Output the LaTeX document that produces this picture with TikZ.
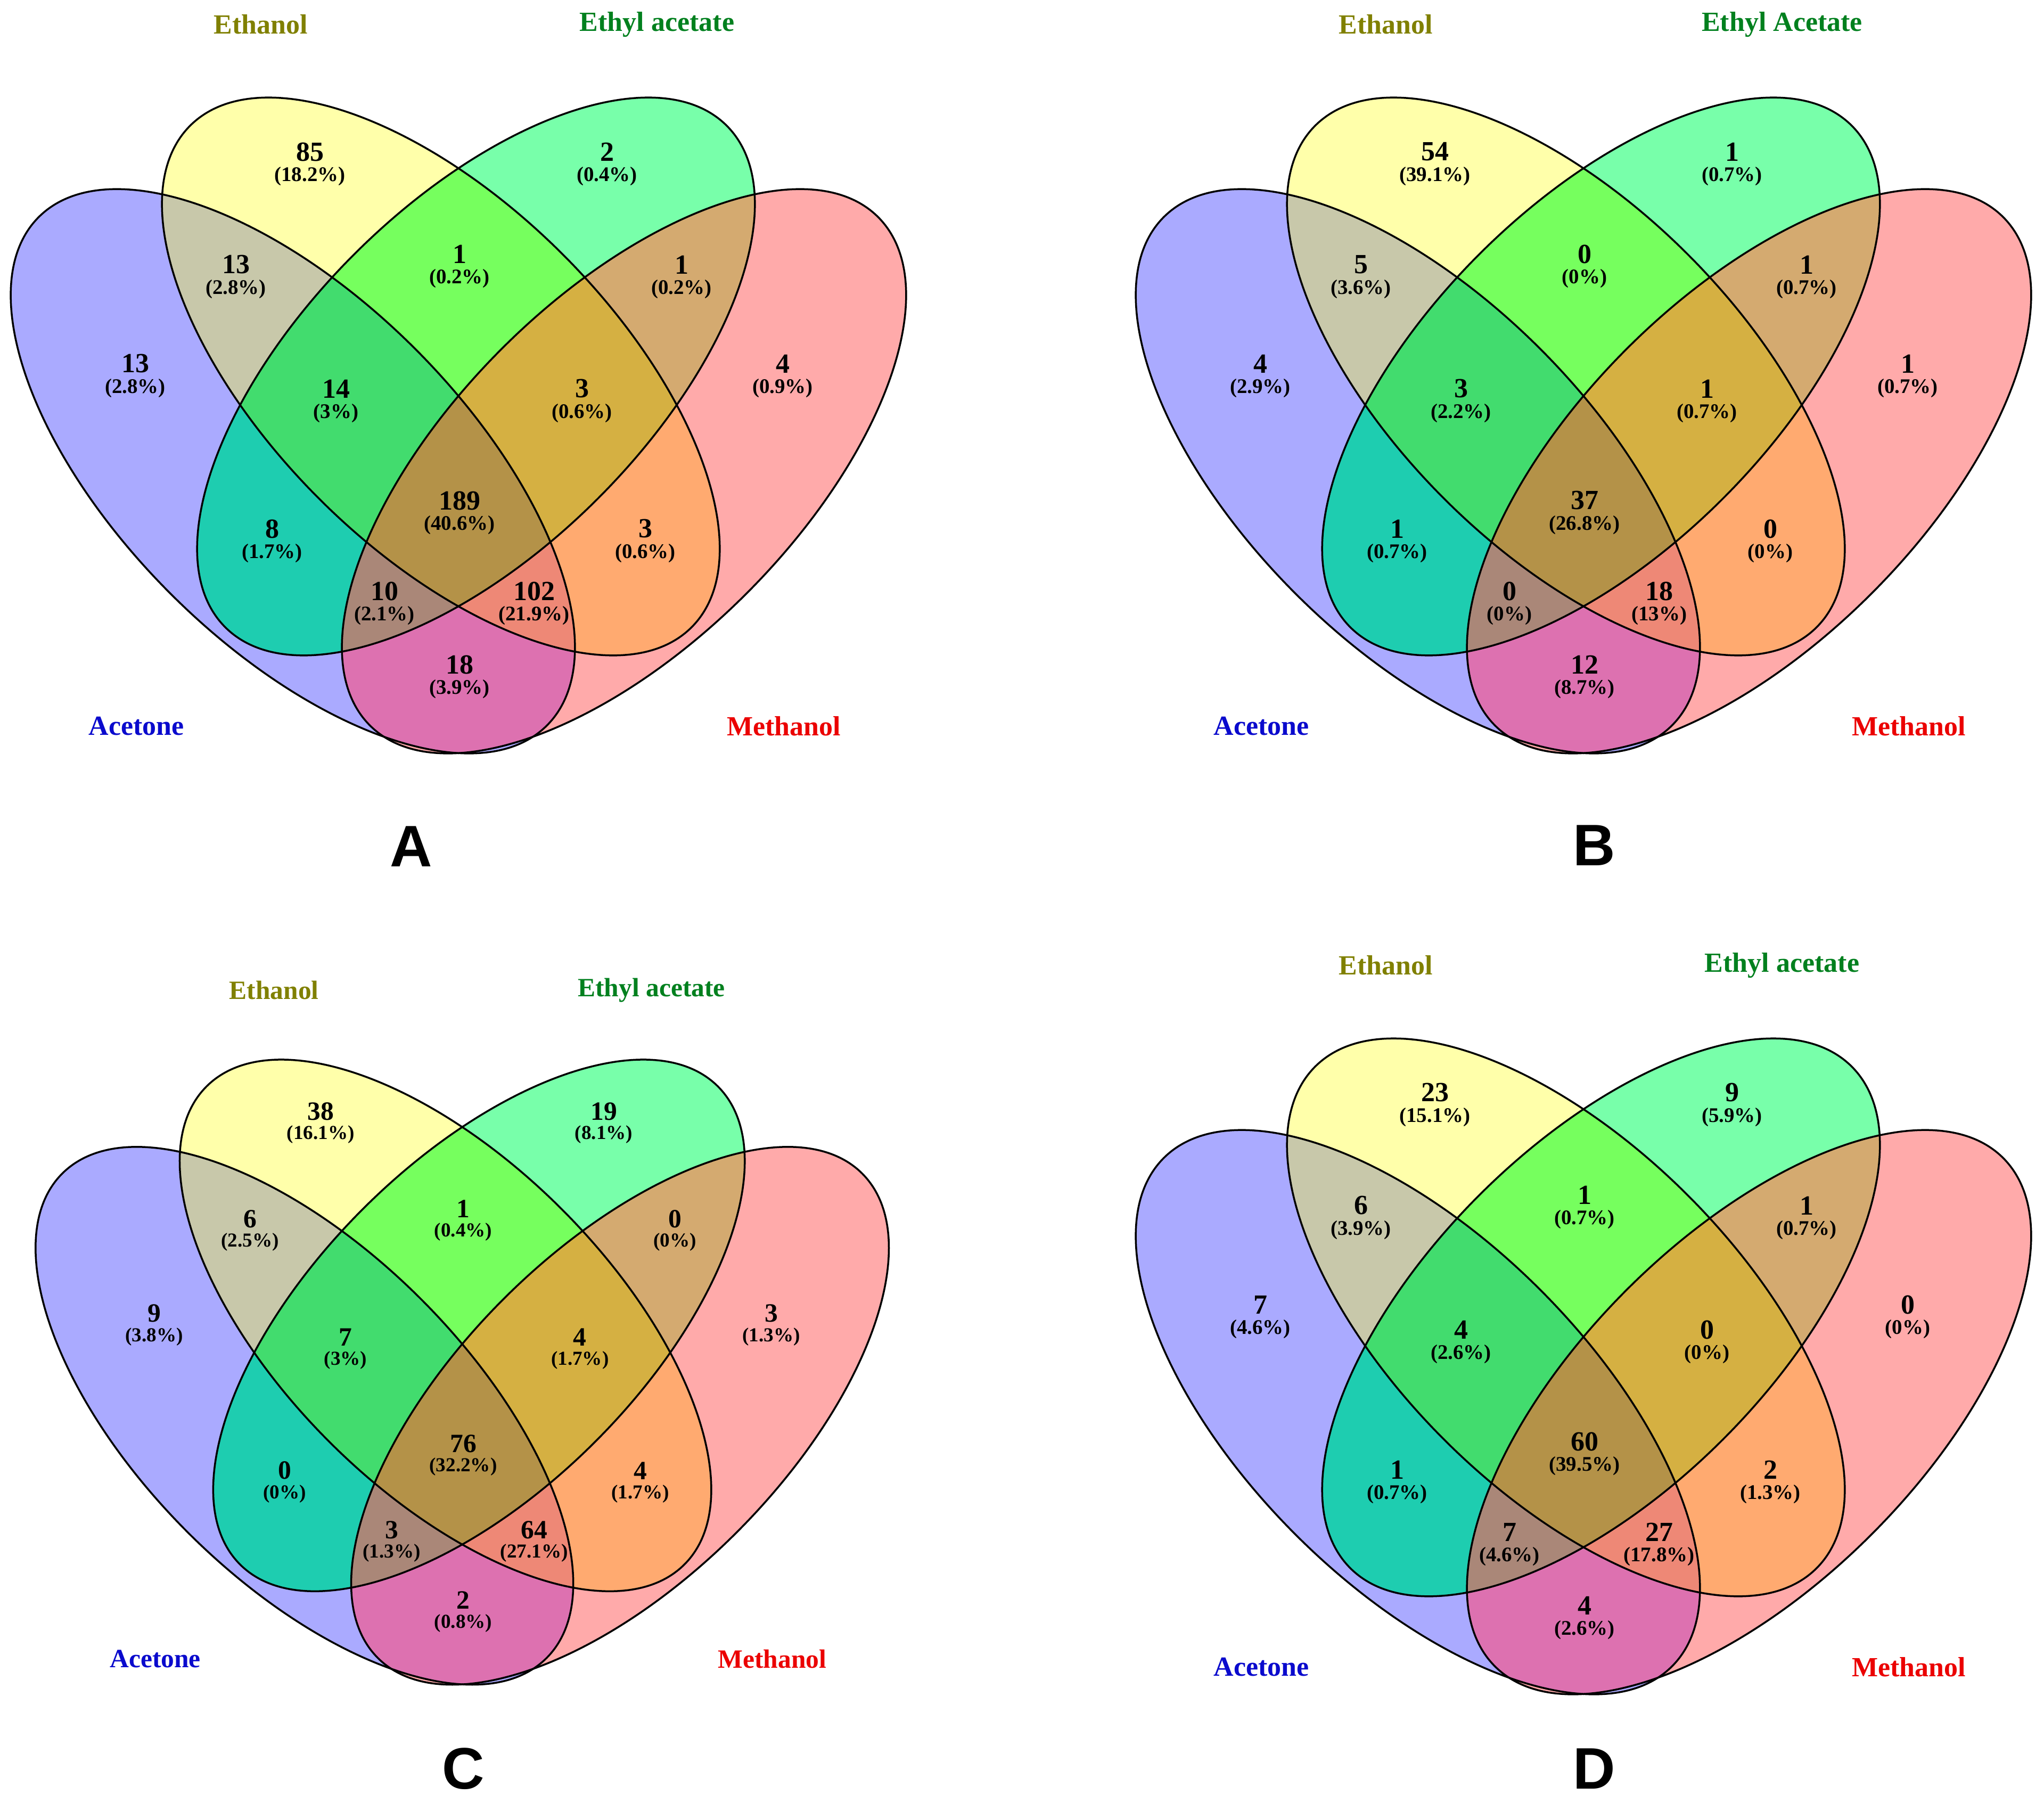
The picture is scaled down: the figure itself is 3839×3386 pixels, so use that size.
\documentclass[tikz,border=0pt]{standalone}
\usepackage{fontspec}
\setmainfont{Liberation Serif}
\newfontfamily\panelfont{Liberation Sans}
\definecolor{cB}{RGB}{170,170,255}
\definecolor{cY}{RGB}{255,255,170}
\definecolor{cG}{RGB}{120,255,170}
\definecolor{cR}{RGB}{255,170,170}
\definecolor{cBY}{RGB}{200,200,170}
\definecolor{cBG}{RGB}{30,205,176}
\definecolor{cBR}{RGB}{221,113,176}
\definecolor{cYG}{RGB}{118,255,94}
\definecolor{cYR}{RGB}{255,170,112}
\definecolor{cGR}{RGB}{212,170,112}
\definecolor{cBYG}{RGB}{66,220,110}
\definecolor{cBYR}{RGB}{238,136,118}
\definecolor{cBGR}{RGB}{170,135,120}
\definecolor{cYGR}{RGB}{213,176,66}
\definecolor{cAll}{RGB}{180,146,72}
\definecolor{cEth}{RGB}{128,128,0}
\definecolor{cEA}{RGB}{0,128,30}
\definecolor{cAce}{RGB}{10,10,205}
\definecolor{cMet}{RGB}{235,0,0}
\newcommand\clipB{\clip[rotate around={-45:(550,885)}] (550,885) ellipse [x radius=675, y radius=325];}
\newcommand\clipY{\clip[rotate around={-45:(828,707)}] (828,707) ellipse [x radius=666, y radius=324];}
\newcommand\clipG{\clip[rotate around={45:(894,707)}] (894,707) ellipse [x radius=666, y radius=324];}
\newcommand\clipR{\clip[rotate around={45:(1172,885)}] (1172,885) ellipse [x radius=675, y radius=325];}
\newcommand\reg[2]{\begin{scope}#2\fill[#1] (-50,-50) rectangle (1800,1500);\end{scope}}
\newcommand\venn{%
 \reg{cB}{\clipB}\reg{cY}{\clipY}\reg{cG}{\clipG}\reg{cR}{\clipR}%
 \reg{cBY}{\clipB\clipY}\reg{cBG}{\clipB\clipG}\reg{cBR}{\clipB\clipR}%
 \reg{cYG}{\clipY\clipG}\reg{cYR}{\clipY\clipR}\reg{cGR}{\clipG\clipR}%
 \reg{cBYG}{\clipB\clipY\clipG}\reg{cBYR}{\clipB\clipY\clipR}%
 \reg{cBGR}{\clipB\clipG\clipR}\reg{cYGR}{\clipY\clipG\clipR}%
 \reg{cAll}{\clipB\clipY\clipG\clipR}%
 \draw[ol,rotate around={-45:(550,885)}] (550,885) ellipse [x radius=675, y radius=325];
 \draw[ol,rotate around={-45:(828,707)}] (828,707) ellipse [x radius=666, y radius=324];
 \draw[ol,rotate around={45:(894,707)}] (894,707) ellipse [x radius=666, y radius=324];
 \draw[ol,rotate around={45:(1172,885)}] (1172,885) ellipse [x radius=675, y radius=325];
}
\newcommand\lab[5]{\node[num] (#1n) at (#2,#3) {#4}; \node[pct] (#1p) at (#2,#3+46) {(#5)};}
\newcommand\cats[2]{%
 \node[cat,text=cEth] (#1eth) at (490,46) {Ethanol};
 \node[cat,text=cEA] (#1ea) at (1234,46) {#2};
 \node[cat,text=cAce] (#1ace) at (256,1364) {Acetone};
 \node[cat,text=cMet] (#1met) at (1472,1364) {Methanol};}
\begin{document}
\begin{tikzpicture}[x=1pt,y=-1pt,
  ol/.style={draw=black, line width=3.5pt},
  num/.style={font=\fontsize{52}{56}\selectfont\bfseries, text=black, inner sep=0pt},
  pct/.style={font=\fontsize{39}{42}\selectfont\bfseries, text=black, inner sep=0pt},
  cat/.style={font=\fontsize{52}{56}\selectfont\bfseries, inner sep=0pt},
  plab/.style={font=\panelfont\fontsize{110}{112}\selectfont\bfseries, text=black, inner sep=0pt}]
\useasboundingbox (0,0) rectangle (3839,3386);
\fill[white] (0,0) rectangle (3839,3386);
% ---------- Panel A
\begin{scope}
\venn
\cats{A}{Ethyl acetate}
\lab{A-Y}{582}{285}{85}{18.2\%}
\lab{A-G}{1140}{285}{2}{0.4\%}
\lab{A-BY}{443}{497}{13}{2.8\%}
\lab{A-YG}{863}{477}{1}{0.2\%}
\lab{A-GR}{1280}{497}{1}{0.2\%}
\lab{A-B}{254}{683}{13}{2.8\%}
\lab{A-R}{1470}{683}{4}{0.9\%}
\lab{A-BYG}{631}{730}{14}{3\%}
\lab{A-YGR}{1093}{730}{3}{0.6\%}
\lab{A-All}{863}{940}{189}{40.6\%}
\lab{A-BG}{511}{993}{8}{1.7\%}
\lab{A-YR}{1212}{993}{3}{0.6\%}
\lab{A-BGR}{722}{1110}{10}{2.1\%}
\lab{A-BYR}{1003}{1110}{102}{21.9\%}
\lab{A-BR}{863}{1248}{18}{3.9\%}
\end{scope}
% ---------- Panel B
\begin{scope}[shift={(2113,0)}]
\venn
\cats{B}{Ethyl Acetate}
\lab{B-Y}{582}{285}{54}{39.1\%}
\lab{B-G}{1140}{285}{1}{0.7\%}
\lab{B-BY}{443}{497}{5}{3.6\%}
\lab{B-YG}{863}{477}{0}{0\%}
\lab{B-GR}{1280}{497}{1}{0.7\%}
\lab{B-B}{254}{683}{4}{2.9\%}
\lab{B-R}{1470}{683}{1}{0.7\%}
\lab{B-BYG}{631}{730}{3}{2.2\%}
\lab{B-YGR}{1093}{730}{1}{0.7\%}
\lab{B-All}{863}{940}{37}{26.8\%}
\lab{B-BG}{511}{993}{1}{0.7\%}
\lab{B-YR}{1212}{993}{0}{0\%}
\lab{B-BGR}{722}{1110}{0}{0\%}
\lab{B-BYR}{1003}{1110}{18}{13\%}
\lab{B-BR}{863}{1248}{12}{8.7\%}
\end{scope}
% ---------- Panel C
\begin{scope}[shift={(871,2086)}, scale=0.953, shift={(-864,-284)}, every node/.append style={scale=0.953}]
\venn
\cats{C}{Ethyl acetate}
\lab{C-Y}{582}{285}{38}{16.1\%}
\lab{C-G}{1140}{285}{19}{8.1\%}
\lab{C-BY}{443}{497}{6}{2.5\%}
\lab{C-YG}{863}{477}{1}{0.4\%}
\lab{C-GR}{1280}{497}{0}{0\%}
\lab{C-B}{254}{683}{9}{3.8\%}
\lab{C-R}{1470}{683}{3}{1.3\%}
\lab{C-BYG}{631}{730}{7}{3\%}
\lab{C-YGR}{1093}{730}{4}{1.7\%}
\lab{C-All}{863}{940}{76}{32.2\%}
\lab{C-BG}{511}{993}{0}{0\%}
\lab{C-YR}{1212}{993}{4}{1.7\%}
\lab{C-BGR}{722}{1110}{3}{1.3\%}
\lab{C-BYR}{1003}{1110}{64}{27.1\%}
\lab{C-BR}{863}{1248}{2}{0.8\%}
\end{scope}
% ---------- Panel D
\begin{scope}[shift={(2113,1767)}]
\venn
\cats{D}{Ethyl acetate}
\lab{D-Y}{582}{285}{23}{15.1\%}
\lab{D-G}{1140}{285}{9}{5.9\%}
\lab{D-BY}{443}{497}{6}{3.9\%}
\lab{D-YG}{863}{477}{1}{0.7\%}
\lab{D-GR}{1280}{497}{1}{0.7\%}
\lab{D-B}{254}{683}{7}{4.6\%}
\lab{D-R}{1470}{683}{0}{0\%}
\lab{D-BYG}{631}{730}{4}{2.6\%}
\lab{D-YGR}{1093}{730}{0}{0\%}
\lab{D-All}{863}{940}{60}{39.5\%}
\lab{D-BG}{511}{993}{1}{0.7\%}
\lab{D-YR}{1212}{993}{2}{1.3\%}
\lab{D-BGR}{722}{1110}{7}{4.6\%}
\lab{D-BYR}{1003}{1110}{27}{17.8\%}
\lab{D-BR}{863}{1248}{4}{2.6\%}
\end{scope}
% ---------- Panel letters
\node[plab] (letA) at (772,1590) {A};
\node[plab] (letB) at (2994,1588) {B};
\node[plab] (letC) at (870,3322) {C};
\node[plab] (letD) at (2994,3322) {D};
\end{tikzpicture}
\end{document}
